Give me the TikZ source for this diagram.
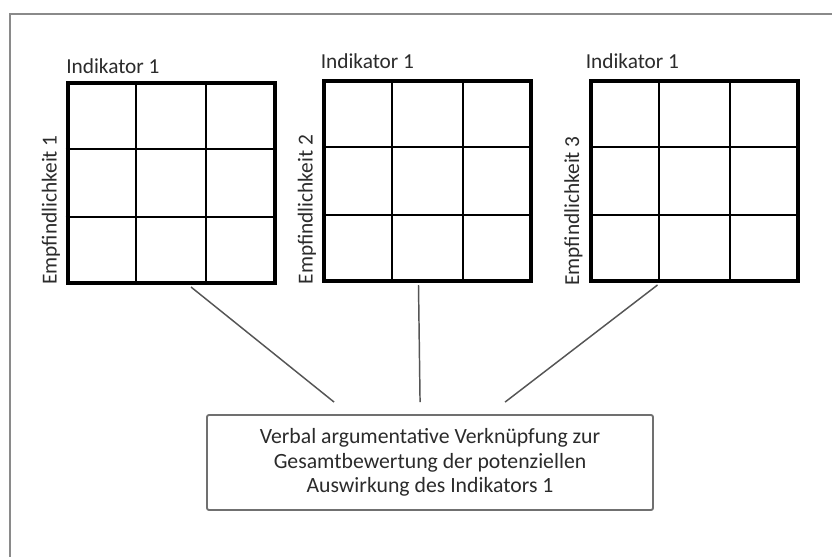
\documentclass[tikz,border=0pt]{standalone}
\usepackage{fontspec}
\setmainfont{Carlito}
\usetikzlibrary{calc}
\definecolor{txt}{HTML}{2B2B2B}
\definecolor{framegray}{HTML}{8A8A8A}
\definecolor{boxgray}{HTML}{707070}
\definecolor{linkgray}{HTML}{555555}
\begin{document}
\begin{tikzpicture}[x=0.75pt,y=-0.75pt,
  matrixbox/.style={draw=black,line width=3pt,minimum width=155.25pt,minimum height=150pt,inner sep=0pt},
  cellline/.style={draw=black,line width=1.5pt},
  lbl/.style={text=txt,font=\fontsize{16}{18}\selectfont,inner sep=0pt},
  link/.style={draw=linkgray,line width=1.1pt},
  result/.style={draw=boxgray,line width=1.4pt,rounded corners=1.5pt,minimum width=334.5pt,minimum height=71.25pt,
    align=center,text=txt,font=\fontsize{16.3}{18.2}\selectfont}
]
\useasboundingbox (0,0) rectangle (832,557);
\fill[white] (0,0) rectangle (832,557);

% page frame (top and left edges)
\draw[framegray,line width=1.2pt] (10,557) -- (10,14) -- (832,14);

% three 3x3 matrices
\node[matrixbox] (g1) at (171,183) {};
\node[matrixbox] (g2) at (427.5,181) {};
\node[matrixbox] (g3) at (694.5,181) {};

\foreach \g in {g1,g2,g3}{
  \foreach \f in {1/3,2/3}{
    \draw[cellline] ($(\g.north west)!\f!(\g.north east)$) -- ($(\g.south west)!\f!(\g.south east)$);
    \draw[cellline] ($(\g.north west)!\f!(\g.south west)$) -- ($(\g.north east)!\f!(\g.south east)$);
  }
}

% axis labels
\node[lbl,anchor=base west] (i1) at ($(g1.north west)+(0.5,-8)$) {Indikator 1};
\node[lbl,anchor=base west] (i2) at ($(g2.north west)+(-1.5,-10.5)$) {Indikator 1};
\node[lbl,anchor=base west] (i3) at ($(g3.north west)+(-3.5,-10.5)$) {Indikator 1};

\node[lbl,rotate=90,anchor=base west] (e1) at ($(g1.south west)+(-9,0)$) {Empfindlichkeit 1};
\node[lbl,rotate=90,anchor=base west] (e2) at ($(g2.south west)+(-9.5,1.5)$) {Empfindlichkeit 2};
\node[lbl,rotate=90,anchor=base west] (e3) at ($(g3.south west)+(-10,3)$) {Empfindlichkeit 3};

% combined assessment
\node[result] (res) at (430,462.5) {Verbal argumentative Verknüpfung zur\\Gesamtbewertung der potenziellen\\Auswirkung des Indikators 1};

\coordinate (s1) at ($(g1.south west)+(125.5,2)$);
\coordinate (s2) at ($(g2.south west)+(96.5,2)$);
\coordinate (s3) at ($(g3.south west)+(68.5,2)$);
\coordinate (t1) at ($(res.north west)+(128,-12)$);
\coordinate (t2) at ($(res.north west)+(214,-12)$);
\coordinate (t3) at ($(res.north west)+(299,-12)$);

\draw[link] (s1) -- (t1);
\draw[link] (s2) -- (t2);
\draw[link] (s3) -- (t3);
\end{tikzpicture}
\end{document}
